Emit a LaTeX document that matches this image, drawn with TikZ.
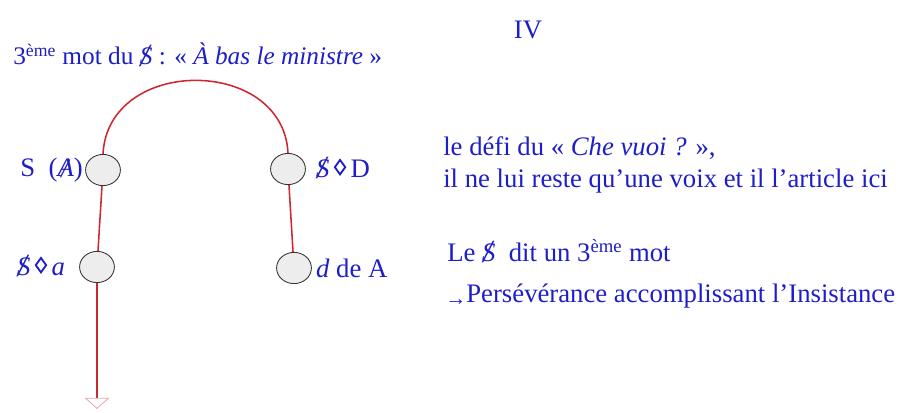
\documentclass[tikz,border=0pt]{standalone}
\usepackage{fontspec}
\setmainfont{Liberation Serif}
\usetikzlibrary{positioning,shapes.geometric,arrows.meta}

\definecolor{lacanblue}{RGB}{30,30,200}
\definecolor{graphred}{RGB}{205,40,50}

\newcommand{\barS}{\ooalign{\textit{S}\cr\hidewidth\raisebox{-0.12ex}{\fontsize{23}{23}\selectfont\textit{/}}\hidewidth\cr}}
\newcommand{\barA}{\ooalign{\textit{A}\cr\hidewidth\raisebox{-0.05ex}{\textit{/}}\hidewidth\cr}}
\newcommand{\poin}{\,\tikz[baseline=0cm]\draw[lacanblue, line width=1.3pt]
  (0cm,0.07cm) -- (0.13cm,0.25cm) -- (0cm,0.43cm) -- (-0.13cm,0.25cm) -- cycle;\,}

\tikzset{
  knot/.style={ellipse, draw=black!80, fill=black!7, line width=0.6pt,
    minimum width=0.87cm, minimum height=0.78cm, inner sep=0pt},
  lbl/.style={text=lacanblue, inner sep=0pt, font=\fontsize{19}{22}\selectfont},
  redline/.style={draw=graphred, line width=1.1pt}
}

\begin{document}
\begin{tikzpicture}[x=0.025cm, y=-0.025cm]
    \useasboundingbox (0,0) rectangle (912,413);

    % the four points of the graph
    \node[knot] (sA) at (103,170) {};
    \node[knot] (sa) at (97,267) {};
    \node[knot] (sD) at (288,169) {};
    \node[knot] (dA) at (294,268) {};
    \coordinate (out) at (97,409);

    \draw[redline] (sA.north) .. controls (108,56) and (283,56) .. (sD.north);
    \draw[redline] (sA) -- (sa);
    \draw[redline] (sD) -- (dA);
    \draw[redline, -{Triangle[open, width=0.62cm, length=0.28cm, color=graphred!40, line width=0.6pt]}] (sa) -- (out);

    % labels of the points
    \node[lbl, left=0.05cm of sA] (lsA) {S\ \ (\barA)};
    \node[lbl, left=0.35cm of sa] (lsa) {\barS\poin\textit{a}};
    \node[lbl, right=0.25cm of sD] (lsD) {\barS\poin D};
    \node[lbl, right=0.1cm of dA] (ldA) {\textit{d} de A};

    % texts
    \node[lbl, anchor=base] (num) at (528,39) {IV};
    \node[lbl, anchor=base west, font=\fontsize{18}{22}\selectfont] (title) at (13,65)
      {3\textsuperscript{ème} mot du \barS\ : « \textit{À bas le ministre} »};
    \node[lbl, anchor=base west] (defi) at (443,156) {le défi du « \textit{Che vuoi ?} »,};
    \node[lbl, anchor=base west] (voix) at (443,187) {il ne lui reste qu’une voix et il l’article ici};
    \node[lbl, anchor=base west] (mot) at (447,261) {Le \barS\ \ dit un 3\textsuperscript{ème} mot};
    \node[lbl, anchor=base west] (pers) at (445,302)
      {\raisebox{-0.3ex}{\fontsize{15}{15}\selectfont →}Persévérance accomplissant l’Insistance};
\end{tikzpicture}
\end{document}
